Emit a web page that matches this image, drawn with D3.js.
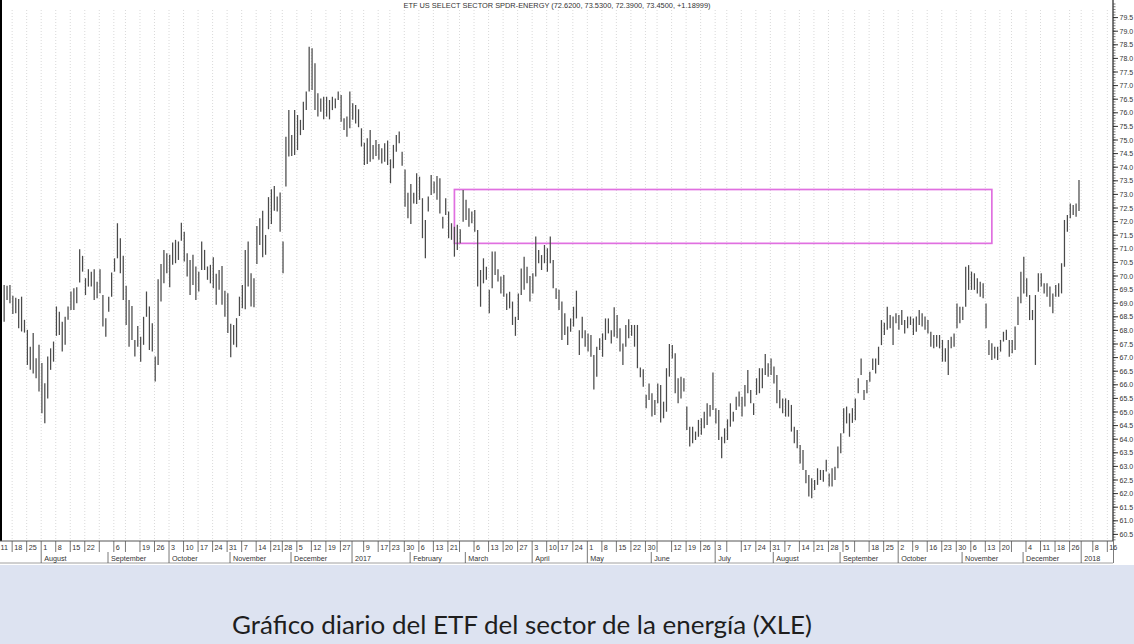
<!DOCTYPE html>
<html><head><meta charset="utf-8">
<script src="https://cdn.jsdelivr.net/npm/d3@7"></script>
<style>body{margin:0;background:#fff;} svg{display:block;}</style>
</head><body><svg id="c" width="1134" height="644"></svg>
<script>
// ---------------- data ----------------
const titleText = "ETF US SELECT SECTOR SPDR-ENERGY (72.6200, 73.5300, 72.3900, 73.4500, +1.18999)";
const captionText = "Gráfico diario del ETF del sector de la energía (XLE)";
const calendarStart = "2016-07-11";
const calendarEnd = "2018-01-19";
const firstBarDate = "2016-07-14";
const holidays = ["2016-09-05","2016-11-24","2016-12-26","2017-01-02","2017-01-16","2017-02-20","2017-04-14",
  "2017-05-29","2017-07-04","2017-09-04","2017-11-23","2017-12-25","2018-01-01","2018-01-15"];
const highs = [
69.67,69.64,69.67,69.27,69.2,69.15,69.24,68.39,68.02,67.4,67.9,66.98,
67.47,66.8,66.06,67.04,67.34,67.59,68.88,68.69,68.32,68.5,68.88,69.43,69.55,69.59,70.98,70.74,69.92,70.25,70.16,70.25,69.79,70.25,69.3,68.45,
69.24,70.13,70.65,71.94,71.39,70.74,69.64,69.12,68.9,67.65,68.16,67.77,68.5,69.43,68.88,68.26,67.04,69.88,70.44,70.96,
70.84,70.78,71.23,71.33,71.27,71.96,71.63,70.84,70.59,70.78,70.35,70.16,71.27,70.96,70.35,70.41,70.69,70.08,70.22,70.37,69.46,
69.37,68.24,68.2,68.45,69.24,69.67,70.96,71.27,70.1,69.92,71.84,72.12,72.4,71.51,72.9,73.19,73.31,72.92,73.07,71.27,75.12,
76.1,75.18,76.1,75.92,75.74,76.41,76.78,78.43,78.37,77.82,76.72,76.53,76.59,76.59,76.47,76.59,76.53,76.78,76.65,75.8,75.86,
76.78,76.35,76.29,76.13,75.43,74.9,75.06,75.37,74.82,75.0,74.85,74.7,74.88,74.98,74.29,74.82,75.18,75.31,74.57,73.92,
73.06,73.38,73.06,73.78,73.65,72.86,72.06,72.92,73.71,73.47,73.68,73.59,72.18,72.86,72.37,71.94,71.81,71.88,71.72,
73.16,72.8,72.49,72.37,72.43,71.69,70.22,70.65,70.34,69.49,70.9,70.9,70.25,69.98,70.04,69.36,69.42,69.06,68.5,69.36,70.28,70.71,70.34,
70.0,70.1,71.45,70.96,70.77,71.14,71.02,71.45,70.59,69.55,69.49,69.06,68.63,68.14,68.44,68.87,69.46,68.01,68.5,68.01,
67.89,67.83,67.1,67.4,67.71,67.89,68.44,68.44,68.01,68.85,68.57,68.08,67.52,68.2,68.41,68.2,68.2,68.2,66.64,66.57,65.63,66.05,
65.69,65.44,66.05,65.99,65.38,66.61,67.5,67.46,67.16,66.24,66.3,66.24,65.2,64.46,64.46,64.28,64.71,64.77,65.01,65.32,
65.26,66.45,65.14,65.07,64.09,64.4,64.73,65.32,65.01,65.56,65.75,65.56,65.99,66.54,65.81,65.32,66.24,66.61,66.61,
67.13,66.79,66.97,66.67,66.36,65.81,65.5,65.5,65.44,65.26,64.46,64.34,63.79,63.6,62.87,62.68,62.56,62.5,62.93,62.87,62.87,63.24,62.74,62.93,62.99,
63.73,64.22,65.14,65.2,64.95,65.14,65.5,66.24,66.97,65.81,66.18,66.48,66.97,66.97,67.4,68.38,68.28,68.87,68.57,68.51,
68.63,68.57,68.75,68.38,68.51,68.51,68.44,68.51,68.75,68.63,68.51,68.38,67.95,67.83,67.83,67.83,67.65,67.34,67.65,67.77,67.89,68.99,
68.87,68.87,70.34,70.4,70.16,70.1,69.92,69.79,69.73,68.99,67.65,67.53,67.4,67.4,67.65,67.95,68.02,67.65,67.65,68.14,69.24,
70.16,70.71,69.92,69.3,68.75,69.3,70.1,70.1,69.73,69.73,69.61,69.36,69.67,69.73,70.47,72.06,72.24,72.67,72.61,72.67,73.53];
const lows = [
68.32,69.12,69.0,68.6,68.63,68.08,67.96,67.92,66.73,66.55,66.42,66.24,
65.75,64.95,64.59,65.5,66.55,66.85,67.8,67.83,67.22,67.47,68.39,68.75,68.75,69.0,69.76,70.16,69.3,69.61,69.61,69.12,69.18,69.37,68.14,67.77,
68.69,69.24,70.16,70.65,70.1,69.12,68.2,67.4,67.65,67.04,67.4,66.85,67.47,68.5,67.28,67.22,66.12,66.73,69.06,69.73,
70.1,69.59,70.41,70.47,70.59,71.3,70.53,69.98,69.3,69.67,69.12,69.43,70.22,70.22,69.86,69.73,69.55,68.94,69.49,68.94,68.5,
67.9,67.01,67.47,67.38,68.53,68.81,68.78,69.61,68.88,68.85,70.44,71.14,70.69,70.78,71.72,71.91,72.4,72.37,71.63,70.1,73.29,
74.39,74.41,74.45,74.63,75.18,75.37,76.1,76.78,76.84,76.1,75.86,76.04,75.76,75.86,75.76,76.1,76.17,76.47,75.67,75.37,75.12,
75.43,75.74,75.61,75.47,74.76,74.08,74.12,74.2,74.29,74.41,74.27,74.14,74.2,74.08,73.41,73.96,74.57,74.88,74.05,72.55,
72.12,71.91,72.67,72.65,72.8,71.39,70.65,72.37,72.98,73.04,72.8,72.3,71.75,72.24,71.39,71.33,70.71,70.96,71.2,
71.99,72.06,71.81,71.94,71.63,69.61,68.87,69.73,69.86,68.63,69.55,70.04,69.8,69.36,69.24,68.75,68.81,68.2,67.8,68.38,69.3,69.49,69.73,
69.06,69.36,69.98,70.47,70.22,70.47,70.16,70.47,69.55,69.15,68.75,67.65,67.83,67.46,67.95,68.14,68.44,67.1,67.71,67.4,
67.22,67.03,65.83,66.3,67.28,67.03,67.65,67.89,67.52,67.77,67.71,67.22,66.73,67.4,67.71,67.8,67.4,66.61,66.28,65.93,65.14,65.44,
64.83,64.89,65.32,64.61,64.77,65.01,66.3,66.97,65.69,65.32,65.5,65.75,64.34,63.73,63.85,63.97,64.09,64.16,64.4,64.52,
64.83,65.07,64.58,63.97,63.3,63.85,63.97,64.46,64.65,65.07,65.2,64.83,65.2,65.69,65.32,64.89,65.63,65.69,65.87,
66.36,66.3,66.36,66.05,65.32,65.14,64.95,64.83,64.83,64.28,63.85,63.67,63.11,62.87,62.38,61.89,61.83,62.13,62.32,62.5,62.44,62.81,62.26,62.26,62.5,
62.93,63.48,64.22,64.58,64.09,64.6,64.7,65.69,66.36,65.44,65.69,66.11,66.54,66.42,66.73,67.46,67.83,68.02,68.08,67.46,
68.26,68.02,68.2,67.89,68.08,68.2,67.83,67.95,68.2,68.14,68.02,67.89,67.4,67.34,67.4,67.34,66.85,66.85,66.36,67.34,67.4,68.08,
68.26,68.38,68.87,69.49,69.49,69.49,69.36,69.24,69.18,68.08,67.1,66.91,66.97,66.91,67.22,67.59,67.65,67.03,67.16,67.28,68.2,
69.0,69.36,69.24,68.38,68.38,66.73,69.42,69.61,69.36,69.24,68.87,68.63,69.24,69.24,69.36,70.34,71.63,72.12,72.24,72.18,72.39];
const weekLabels = ["11","18","25","1","8","15","22","","6","","19","26","3","10","17","24","31","7","14","21","28","5","12","19","27",
  "","9","17","23","30","6","13","21","","6","13","20","27","3","10","17","24","1","8","15","22","30","","12","19","26","3","","17","24","31",
  "7","14","21","28","5","","18","25","2","9","16","23","30","6","13","20","","4","11","18","26","","8","16"];
const monthLabels = ["August","September","October","November","December","2017","February","March","April","May","June","July",
  "August","September","October","November","December","2018"];
const priceTicks = d3.range(60.5, 79.51, 0.5);
const zoneDates = ["2017-02-24","2017-11-16"];
const zonePrices = [73.18, 71.2];

// ---------------- calendar ----------------
function tradingDays(from, to, hol){
  const hs = new Set(hol), out = [];
  const end = new Date(to+"T12:00:00Z");
  for (let d = new Date(from+"T12:00:00Z"); d <= end; d.setUTCDate(d.getUTCDate()+1)){
    const wd = d.getUTCDay(), s = d.toISOString().slice(0,10);
    if (wd>0 && wd<6 && !hs.has(s)) out.push(s);
  }
  return out;
}
const cal = tradingDays(calendarStart, calendarEnd, holidays);
const base = cal.indexOf("2016-08-01");
const idx = s => cal.indexOf(s) - base;
const firstI = idx(firstBarDate);
const bars = highs.map((h,k)=>({i:firstI+k, h, l:lows[k]}));

// ---------------- layout ----------------
const svg = d3.select("#c");
const W = 1134, H = 644;
const plotR = 1113, plotB = 541;
const x = d3.scaleLinear().domain([0, 358]).range([39, 39 + 2.905*358]);
const y = d3.scaleLinear().domain([73.5, 60.5]).range([180.8, 180.8 + 13*27.2]);
const small = "Liberation Sans, Arial, sans-serif";

svg.append("rect").attr("width",W).attr("height",H).attr("fill","#fff");
svg.append("rect").attr("x",0).attr("y",565).attr("width",W).attr("height",H-565).attr("fill","#dde3f1");

const weeks = [], months = [];
cal.forEach((s,k)=>{
  const d = new Date(s+"T12:00:00Z");
  if (k===0){ weeks.push(k); return; }
  const p = new Date(cal[k-1]+"T12:00:00Z");
  if (d.getUTCDay() <= p.getUTCDay() || (d-p) > 4*864e5) weeks.push(k);
  if (d.getUTCMonth() !== p.getUTCMonth()) months.push(k);
});
const gx = k => x(k - base) + 2.2;

const clip = svg.append("defs").append("clipPath").attr("id","pc");
clip.append("rect").attr("x",0).attr("y",0).attr("width",plotR).attr("height",plotB);
const g = svg.append("g").attr("clip-path","url(#pc)");

g.selectAll("line.grid").data(weeks).join("line")
  .attr("x1",gx).attr("x2",gx).attr("y1",10).attr("y2",plotB)
  .attr("stroke","#cfcfcf").attr("stroke-width",0.8).attr("stroke-dasharray","1,2");

g.append("rect")
  .attr("x", x(idx(zoneDates[0]))).attr("y", y(zonePrices[0]))
  .attr("width", x(idx(zoneDates[1])) - x(idx(zoneDates[0])))
  .attr("height", y(zonePrices[1]) - y(zonePrices[0]))
  .attr("fill","none").attr("stroke","#e070e0").attr("stroke-width",1.7);

g.selectAll("line.bar").data(bars).join("line")
  .attr("x1",d=>x(d.i)).attr("x2",d=>x(d.i))
  .attr("y1",d=>y(d.h)).attr("y2",d=>y(d.l))
  .attr("stroke","#4a4a4a").attr("stroke-width",1.25);

svg.append("text").attr("x",557).attr("y",8).attr("text-anchor","middle")
  .attr("font-family",small).attr("font-size",7.4).attr("fill","#333")
  .text(titleText);

svg.append("line").attr("x1",1).attr("x2",1).attr("y1",0).attr("y2",plotB).attr("stroke","#000").attr("stroke-width",2);

const ra = svg.append("g");
ra.append("line").attr("x1",plotR).attr("x2",plotR).attr("y1",0).attr("y2",plotB+22).attr("stroke","#222").attr("stroke-width",1.2);
const minor = d3.range(60.3, 80.05, 0.1).filter(v=>y(v)>2 && y(v)<plotB);
ra.selectAll("line.mn").data(minor).join("line")
  .attr("x1",plotR).attr("x2",plotR+2.5).attr("y1",d=>y(d)).attr("y2",d=>y(d)).attr("stroke","#444").attr("stroke-width",0.7);
ra.selectAll("line.mj").data(priceTicks).join("line")
  .attr("x1",plotR).attr("x2",plotR+5).attr("y1",d=>y(d)).attr("y2",d=>y(d)).attr("stroke","#222").attr("stroke-width",0.9);
ra.selectAll("text").data(priceTicks).join("text")
  .attr("x",plotR+6.5).attr("y",d=>y(d)+2.5)
  .attr("font-family",small).attr("font-size",7).attr("fill","#333")
  .text(d=>d.toFixed(1));

const ax = svg.append("g");
ax.append("rect").attr("x",0).attr("y",plotB).attr("width",plotR).attr("height",22).attr("fill","#fff");
ax.append("line").attr("x1",0).attr("x2",plotR).attr("y1",plotB).attr("y2",plotB).attr("stroke","#555").attr("stroke-width",1);
ax.append("line").attr("x1",0).attr("x2",plotR).attr("y1",plotB+22).attr("y2",plotB+22).attr("stroke","#888").attr("stroke-width",0.8);
ax.selectAll("line.ws").data(weeks).join("line")
  .attr("x1",gx).attr("x2",gx).attr("y1",plotB).attr("y2",plotB+11).attr("stroke","#555").attr("stroke-width",0.8);
ax.selectAll("text.wl").data(weeks).join("text")
  .attr("x",k=>Math.max(0.5, gx(k)+2)).attr("y",plotB+9)
  .attr("font-family",small).attr("font-size",7.2).attr("fill","#333")
  .text((k,j)=>weekLabels[j]||"");
ax.selectAll("line.ms").data(months).join("line")
  .attr("x1",gx).attr("x2",gx).attr("y1",plotB+11).attr("y2",plotB+22).attr("stroke","#555").attr("stroke-width",0.8);
ax.selectAll("text.ml").data(months).join("text")
  .attr("x",k=>gx(k)+3).attr("y",plotB+19.5)
  .attr("font-family",small).attr("font-size",7.2).attr("fill","#333")
  .text((k,j)=>monthLabels[j]||"");

const cap = svg.append("text").attr("x",522).attr("y",634).attr("text-anchor","middle")
  .attr("font-family","Lato, Open Sans, sans-serif").attr("font-size",24).attr("fill","#1e1e1e")
  .text(captionText);
const w = cap.node().getComputedTextLength();
cap.attr("font-size", 24*580/w);
</script></body></html>
